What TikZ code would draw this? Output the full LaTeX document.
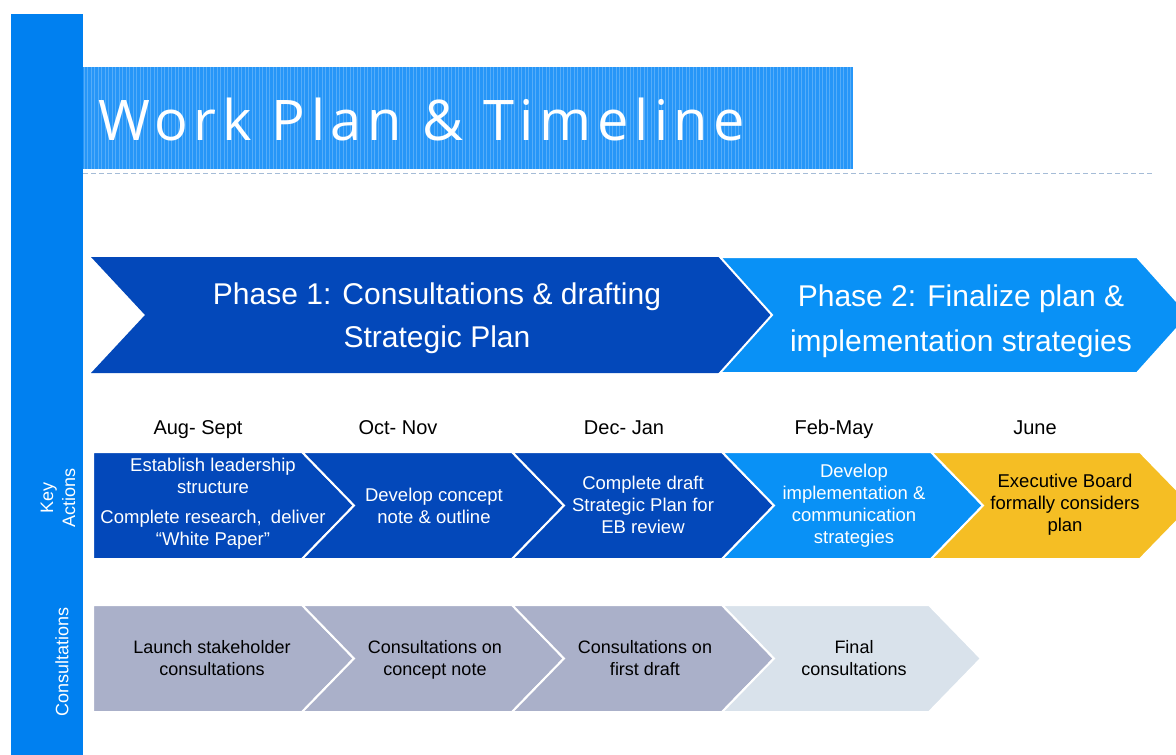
\documentclass[tikz,border=0pt]{standalone}
\usepackage{fontspec}
\setmainfont{Liberation Sans}
\newfontfamily\titlefont[LetterSpace=10]{Open Sans}
\definecolor{barblue}{RGB}{0,128,240}
\definecolor{bandblue}{RGB}{38,150,248}
\definecolor{dashcol}{RGB}{165,188,215}
\definecolor{kdark}{RGB}{3,72,186}
\definecolor{klight}{RGB}{9,145,246}
\definecolor{kyellow}{RGB}{245,190,36}
\definecolor{cgrey}{RGB}{170,176,201}
\definecolor{clight}{RGB}{217,226,235}
\tikzset{
  chev/.style={draw=white, line width=2pt, line join=miter},
  phasetext/.style={text=white, align=center, inner sep=0pt},
  keytext/.style={text=white, align=center, inner sep=0pt, font=\fontsize{18.5}{22}\selectfont},
  context/.style={text=black, align=center, inner sep=0pt, font=\fontsize{18}{22}\selectfont},
  datetext/.style={text=black, inner sep=0pt, anchor=base, font=\fontsize{20}{24}\selectfont},
  sidetext/.style={text=white, align=center, inner sep=0pt, rotate=90, font=\fontsize{18}{22}\selectfont}
}
\begin{document}
\begin{tikzpicture}[x=1pt,y=-1pt]
\useasboundingbox (0,0) rectangle (1176,755);
\clip (0,0) rectangle (1176,755);
% left bar
\fill[barblue] (11,14) rectangle (83,755);
% title band
\fill[bandblue] (83,67) rectangle (853,169);
\begin{scope}
  \clip (83,67) rectangle (853,169);
  \draw[white, opacity=0.22, line width=0.8pt, step=3.5] (83,67) grid (853,169);
\end{scope}
\coordinate (dl) at (83,173);
\coordinate (dr) at (1153,173);
\draw[dashcol, line width=1pt, dash pattern=on 5pt off 3pt] (dl) -- (dr);
\node[anchor=base west, inner sep=0pt, text=white, font=\titlefont\fontsize{56}{60}\selectfont] (title) at (98,140) {Work Plan \& Timeline};
% phases
\fill[kdark] (91,257) -- (720,257) -- (772,315) -- (720,373) -- (91,373) -- (145,315) -- cycle;
\path[chev, fill=klight] (720,257) -- (1137,257) -- (1189,315) -- (1137,373) -- (720,373) -- (772,315) -- cycle;
\node[phasetext, font=\fontsize{30}{43}\selectfont] (p1) at (437,318.5) {Phase 1: Consultations \& drafting\\Strategic Plan};
\node[phasetext, font=\fontsize{30}{45}\selectfont] (p2) at (961,321.5) {Phase 2: Finalize plan \&\\implementation strategies};
% dates
\node[datetext] (d1) at (198,434) {Aug- Sept};
\node[datetext] (d2) at (398,434) {Oct- Nov};
\node[datetext] (d3) at (624,434) {Dec- Jan};
\node[datetext] (d4) at (834,434) {Feb-May};
\node[datetext] (d5) at (1035,434) {June};
% key actions row
\path[chev, fill=kdark] (93,452) -- (302,452) -- ++(52,53.5) -- ++(-52,53.5) -- (93,559) -- cycle;
\foreach \a/\b/\c in {302/512/kdark, 512/722/kdark, 722/931/klight, 931/1140/kyellow}
  \path[chev, fill=\c] (\a,452) -- (\b,452) -- ++(52,53.5) -- ++(-52,53.5) -- (\a,559) -- ++(52,-53.5) -- cycle;
\node[keytext] (k1) at (213,504) {Establish leadership\\structure\\[8pt]Complete research,\hspace{4pt} deliver\\“White Paper”};
\node[keytext] (k2) at (434,505.5) {Develop concept\\note \& outline};
\node[keytext] (k3) at (643,505) {Complete draft\\Strategic Plan for\\EB review};
\node[keytext] (k4) at (854,505.5) {Develop\\implementation \&\\communication\\strategies};
\node[keytext, text=black] (k5) at (1065,505) {Executive Board\\formally considers\\plan};
% consultations row
\path[chev, fill=cgrey] (93,605) -- (302,605) -- ++(52,53.5) -- ++(-52,53.5) -- (93,712) -- cycle;
\foreach \a/\b/\c in {302/512/cgrey, 512/722/cgrey, 722/929/clight}
  \path[chev, fill=\c] (\a,605) -- (\b,605) -- ++(52,53.5) -- ++(-52,53.5) -- (\a,712) -- ++(52,-53.5) -- cycle;
\node[context] (c1) at (212,658) {Launch stakeholder\\consultations};
\node[context] (c2) at (435,660) {Consultations on\\concept note};
\node[context] (c3) at (645,658) {Consultations on\\first draft};
\node[context] (c4) at (854,658) {Final\\consultations};
% side labels
\node[sidetext] (ka) at (58,498) {Key\\Actions};
\node[sidetext] (cs) at (62,662) {Consultations};
\end{tikzpicture}
\end{document}
